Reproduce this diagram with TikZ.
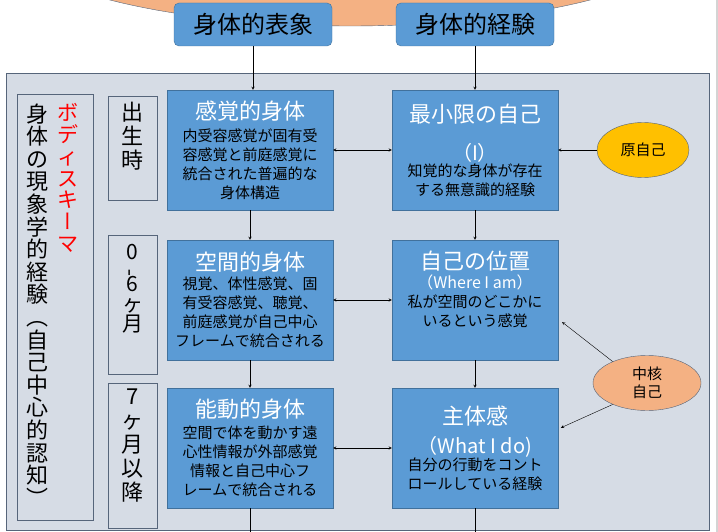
\documentclass[tikz,border=0pt]{standalone}
\usepackage{fontspec}
\usepackage{graphicx}
\setmainfont{Noto Sans CJK JP}
\newfontfamily\tatefont[RawFeature=+vert]{Noto Sans CJK JP}
\usetikzlibrary{shapes.geometric}
\definecolor{panelfill}{HTML}{D6DCE5}
\definecolor{slate}{HTML}{56657A}
\definecolor{boxfill}{HTML}{5B9BD5}
\definecolor{boxline}{HTML}{41719C}
\definecolor{peach}{HTML}{F4B183}
\definecolor{gold}{HTML}{FFC000}
\definecolor{edgegray}{HTML}{D4D4D4}
\newcommand{\boxtitle}[1]{{\fontsize{22}{22}\selectfont\color{white}#1}}
\newcommand{\tatechar}[1]{{\tatefont #1}}
\begin{document}
\begin{tikzpicture}[>=stealth,x=1pt,y=-1pt,
		bluebox/.style={draw=boxline,fill=boxfill,minimum width=166pt,minimum height=120pt,align=center,inner sep=1pt,font=\fontsize{15}{19}\selectfont},
		topbox/.style={draw=boxline,fill=boxfill,rounded corners=5pt,minimum width=158pt,minimum height=43pt,font=\fontsize{24}{24}\selectfont},
		agebox/.style={draw=slate,minimum width=49pt},
		tate/.style={align=center,inner sep=0pt},
		selfnode/.style={ellipse,draw=slate,font=\fontsize{15}{18}\selectfont,align=center}]
	\useasboundingbox (0,0) rectangle (718,532);
	% ellipse above, top boxes
	\node[ellipse,draw=slate,fill=peach,minimum width=714pt,minimum height=200pt] (body) at (350,-74) {};
	\node[topbox] (hyosho) at (253,24.5) {身体的表象};
	\node[topbox] (keiken) at (475,24.5) {身体的経験};
	% panel
	\node[draw=slate,fill=panelfill,minimum width=703pt,minimum height=457pt,inner sep=0pt] (panel) at (357.5,301.5) {};
	\draw[line width=2pt,edgegray] (717,0) -- (717,532);
	\node[draw=slate,minimum width=76pt,minimum height=426pt] (leftbox) at (55,307) {};
	\node[tate,font=\fontsize{22}{22.6}\selectfont] (phenom) at (38,305) {身\\体\\の\\現\\象\\学\\的\\経\\験\\\tatechar{（}\\自\\己\\中\\心\\的\\認\\知\\\tatechar{）}};
	\node[tate,red,font=\fontsize{21}{21.8}\selectfont] (schema) at (68,178) {ボ\\デ\\ィ\\ス\\キ\\\tatechar{ー}\\マ};
	% ages
	\node[agebox,minimum height=104pt] (birth) at (132.5,148) {};
	\node[agebox,minimum height=139pt] (early) at (132.5,304.5) {};
	\node[agebox,minimum height=145pt] (late) at (132.5,455.5) {};
	\node[tate,font=\fontsize{22}{24}\selectfont] (birth-t) at (132.5,136) {出\\生\\時};
	\node[tate,font=\fontsize{21}{20}\selectfont] (early-t) at (132.5,289) {0\\[-4pt]\rotatebox[origin=c]{90}{-}\\[-4pt]6\\ヶ\\月};
	\node[tate,font=\fontsize{22}{24}\selectfont] (late-t) at (132.5,446) {7\\ヶ\\月\\以\\降};
	% body column
	\node[bluebox] (kankaku) at (250,150) {\boxtitle{感覚的身体}\\[3pt]内受容感覚が固有受\\容感覚と前庭感覚に\\統合された普遍的な\\身体構造};
	\node[bluebox] (kukan) at (250,300) {\boxtitle{空間的身体}\\視覚、体性感覚、固\\有受容感覚、聴覚、\\前庭感覚が自己中心\\フレームで統合される};
	\node[bluebox] (nodo) at (250,448) {\boxtitle{能動的身体}\\[2pt]空間で体を動かす遠\\心性情報が外部感覚\\情報と自己中心フ\\レームで統合される};
	% self column
	\node[bluebox] (saisho) at (475,150) {\boxtitle{最小限の自己}\\[19pt]{\fontsize{20}{20}\selectfont\color{white}（I）}\\[-3pt]知覚的な身体が存在\\する無意識的経験};
	\node[bluebox] (ichi) at (475,300) {\boxtitle{自己の位置}\\{\fontsize{16}{16}\selectfont\color{white}（Where I am）}\\私が空間のどこかに\\いるという感覚\\[4pt]~};
	\node[bluebox] (shutai) at (475,448) {\boxtitle{主体感}\\[10pt]{\fontsize{20}{20}\selectfont\color{white}（What I do)}\\[-2pt]自分の行動をコント\\ロールしている経験};
	\node[selfnode,fill=gold,minimum width=92pt,minimum height=55pt] (gen) at (643,150) {原自己};
	\node[selfnode,fill=peach,minimum width=108pt,minimum height=55pt] (core) at (647,383) {中核\\自己};
	\coordinate (nodo-out) at (250,532);
	\coordinate (shutai-out) at (475,532);
	% arrows
	\draw[->] (hyosho) -- (hyosho |- kankaku.north);
	\draw[->] (keiken) -- (keiken |- saisho.north);
	\draw[->] (kankaku) -- (kukan);
	\draw[->] (kukan) -- (nodo);
	\draw[->] (saisho) -- (ichi);
	\draw[->] (ichi) -- (shutai);
	\draw (nodo) -- (nodo-out);
	\draw (shutai) -- (shutai-out);
	\draw[<->] (kankaku) -- (saisho);
	\draw[<->] (kukan) -- (ichi);
	\draw[<->] (nodo) -- (shutai);
	\draw[->] (gen) -- (saisho);
	\draw[->,shorten >=5pt] (core.148) -- ([yshift=-19pt]ichi.east);
	\draw[->,shorten >=3pt] (core.212) -- ([yshift=19pt]shutai.east);
\end{tikzpicture}
\end{document}
